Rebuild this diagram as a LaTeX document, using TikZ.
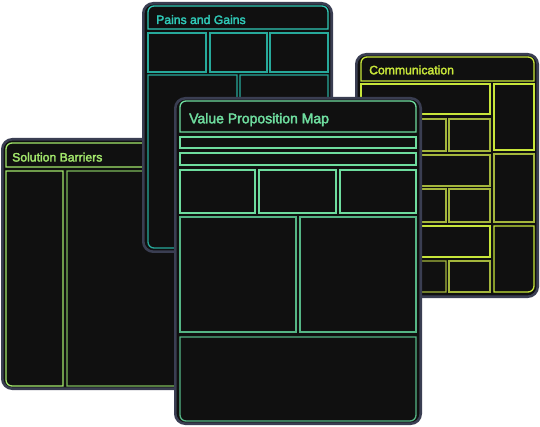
\documentclass[tikz,border=0pt]{standalone}
\usepackage{fontspec}
\setmainfont{Liberation Sans}
\newfontfamily\titlefont{Liberation Sans}[FakeBold=2.5]
\definecolor{cardfill}{HTML}{101010}
\definecolor{cardedge}{HTML}{3A3E52}
\definecolor{sbA}{HTML}{A3E86C}
\definecolor{sbB}{HTML}{7DBA5A}
\definecolor{pgA}{HTML}{2FC9B7}
\definecolor{pgB}{HTML}{27A99B}
\definecolor{cmA}{HTML}{C8E63A}
\definecolor{cmB}{HTML}{A4B63C}
\definecolor{vpA}{HTML}{6EDC9E}
\definecolor{vpB}{HTML}{55B585}
\tikzset{
  card/.style={draw=cardedge, fill=cardfill, line width=2.6pt, rounded corners=10pt},
  inner/.style={line width=1.3pt},
  rc/.style={rounded corners=6pt},
  sc/.style={sharp corners},
  title/.style={anchor=base west, inner sep=0pt, font=\titlefont\fontsize{12.2}{14}\selectfont},
  bigtitle/.style={anchor=base west, inner sep=0pt, font=\titlefont\fontsize{14}{16}\selectfont},
}
% box with per-corner rounding: color, x1,y1,x2,y2, TL,TR,BR,BL
\newcommand\cbox[9]{\draw[inner,draw=#1] ({(#2+#4)/2},#3) [#7] -- (#4,#3) -- (#4,{(#3+#5)/2}) [#8] -- (#4,#5) -- ({(#2+#4)/2},#5) [#9] -- (#2,#5) -- (#2,{(#3+#5)/2}) [#6] -- (#2,#3) -- cycle;}
\newcommand\flatbox[5]{\draw[inner,draw=#1] (#2,#3) rectangle (#4,#5);}
\begin{document}
\begin{tikzpicture}[x=1pt,y=-1pt]
\useasboundingbox[fill=white] (0,0) rectangle (540,427);
% ---------- Solution Barriers ----------
\draw[card] (2.3,139.3) rectangle (205,388.7);
\cbox{sbA}{6}{143}{198}{167}{rc}{rc}{sc}{sc}
\cbox{sbA}{6}{171}{63}{386}{sc}{sc}{sc}{rc}
\cbox{sbB}{67}{171}{198}{386}{sc}{sc}{rc}{sc}
\node[title, text=sbA] (sbt) at (12,161.5) {Solution Barriers};
% ---------- Pains and Gains ----------
\draw[card] (143.3,3.3) rectangle (331.7,251.7);
\cbox{pgA}{148}{6}{328}{29}{rc}{rc}{sc}{sc}
\flatbox{pgB}{148}{33}{206}{72}
\flatbox{pgB}{210}{33}{267}{72}
\flatbox{pgB}{270}{33}{328}{72}
\cbox{pgB}{148}{75}{237}{248}{sc}{sc}{sc}{rc}
\cbox{pgB}{240}{75}{328}{248}{sc}{sc}{rc}{sc}
\node[title, text=pgA] (pgt) at (156,24) {Pains and Gains};
% ---------- Communication ----------
\draw[card] (356.3,54.3) rectangle (537.7,296.7);
\cbox{cmA}{361}{57}{534}{81}{rc}{rc}{sc}{sc}
\flatbox{cmA}{494}{84}{534}{150}
\flatbox{cmB}{494}{154}{534}{222}
\cbox{cmA}{494}{226}{534}{292}{sc}{sc}{rc}{sc}
\flatbox{cmA}{361}{84}{490}{114}
\flatbox{cmB}{361}{119}{446}{151}
\flatbox{cmB}{449}{119}{490}{151}
\flatbox{cmB}{361}{155}{490}{186}
\flatbox{cmB}{361}{189}{446}{222}
\flatbox{cmB}{449}{189}{490}{222}
\flatbox{cmA}{361}{226}{490}{257}
\cbox{cmB}{361}{261}{446}{292}{sc}{sc}{sc}{rc}
\flatbox{cmB}{449}{261}{490}{292}
\node[title, text=cmA] (cmt) at (369,74.3) {Communication};
% ---------- Value Proposition Map ----------
\draw[card] (175.3,98.3) rectangle (420.7,423.7);
\cbox{vpA}{180}{101}{416}{132}{rc}{rc}{sc}{sc}
\flatbox{vpA}{180}{137}{416}{148}
\flatbox{vpA}{180}{153}{416}{165}
\flatbox{vpA}{180}{170}{255}{213}
\flatbox{vpA}{259}{170}{336}{213}
\flatbox{vpA}{340}{170}{416}{213}
\flatbox{vpB}{180}{217}{296}{332}
\flatbox{vpB}{300}{217}{416}{332}
\cbox{vpB}{180}{337}{416}{421}{sc}{sc}{rc}{rc}
\node[bigtitle, text=vpA] (vpt) at (189,123.3) {Value Proposition Map};
\end{tikzpicture}
\end{document}
